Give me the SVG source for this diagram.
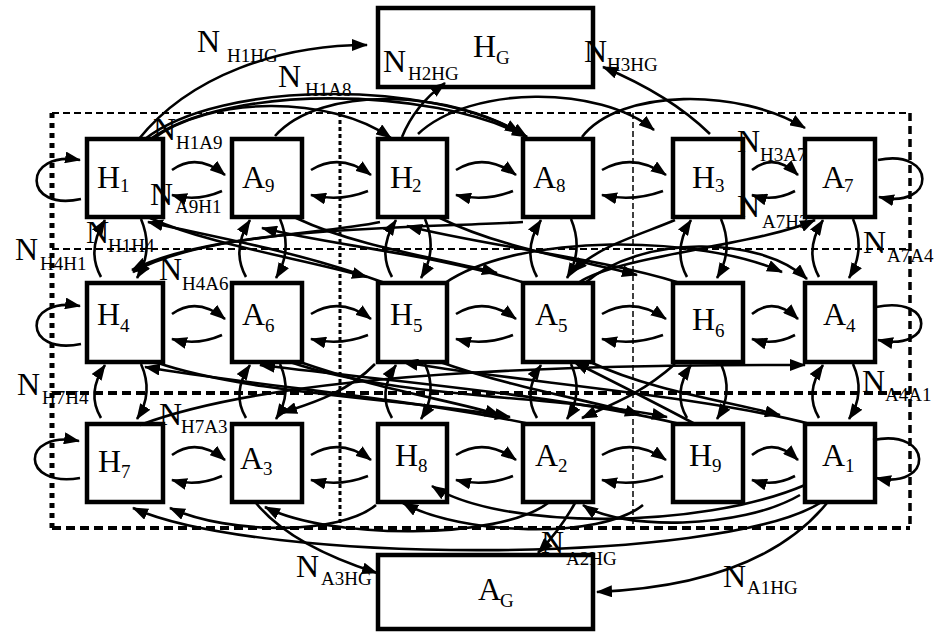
<svg xmlns="http://www.w3.org/2000/svg" width="934" height="632" viewBox="0 0 934 632">
  <style>
    .box { fill: #fff; stroke: #000; stroke-width: 4.5; }
    .big { font-family: "Liberation Serif", "Times New Roman", serif; font-size: 32px; fill: #000; }
    .sub { font-size: 19px; }
    .e { fill: none; stroke: #000; stroke-width: 2.6; marker-end: url(#arr); }
    .g { fill: none; stroke: #000; }
  </style>
  <defs>
    <marker id="arr" viewBox="0 0 16 12" refX="15" refY="6" markerWidth="16" markerHeight="12" markerUnits="userSpaceOnUse" orient="auto">
      <path d="M0,0 L16,6 L0,12 z" fill="#000"/>
    </marker>
  </defs>
  <rect width="934" height="632" fill="#fff"/>

  <!-- dashed zone grid -->
  <g id="grid">
    <line class="g" x1="52" y1="113" x2="910" y2="113" stroke-width="2" stroke-dasharray="7 4"/>
    <line class="g" x1="52" y1="249" x2="910" y2="249" stroke-width="2" stroke-dasharray="7 4"/>
    <line class="g" x1="52" y1="393" x2="910" y2="393" stroke-width="4" stroke-dasharray="9 5"/>
    <line class="g" x1="52" y1="528" x2="910" y2="528" stroke-width="4" stroke-dasharray="9 5"/>
    <line class="g" x1="52" y1="113" x2="52" y2="528" stroke-width="5" stroke-dasharray="5 5"/>
    <line class="g" x1="910" y1="113" x2="910" y2="528" stroke-width="3.5" stroke-dasharray="8 5"/>
    <line class="g" x1="340" y1="113" x2="340" y2="528" stroke-width="3" stroke-dasharray="4 3"/>
    <line class="g" x1="633" y1="113" x2="633" y2="528" stroke-width="1.5" stroke-dasharray="6 3"/>
  </g>

  <!-- nodes -->
  <g id="HG"><rect class="box" x="378" y="8" width="215" height="79"/><text class="big" x="473" y="57">H<tspan class="sub" x="496" y="64">G</tspan></text></g>
  <g id="AG"><rect class="box" x="378" y="555" width="215" height="74"/><text class="big" x="478" y="600">A<tspan class="sub" x="500" y="607">G</tspan></text></g>

  <g id="H1"><rect class="box" x="87" y="139" width="76" height="78"/><text class="big" x="97" y="188">H<tspan class="sub" x="120" y="192">1</tspan></text></g>
  <g id="A9"><rect class="box" x="232" y="139" width="70" height="78"/><text class="big" x="242" y="188">A<tspan class="sub" x="265" y="192">9</tspan></text></g>
  <g id="H2"><rect class="box" x="378" y="139" width="69" height="78"/><text class="big" x="390" y="188">H<tspan class="sub" x="412" y="192">2</tspan></text></g>
  <g id="A8"><rect class="box" x="523" y="139" width="70" height="78"/><text class="big" x="533" y="188">A<tspan class="sub" x="556" y="192">8</tspan></text></g>
  <g id="H3"><rect class="box" x="673" y="139" width="70" height="78"/><text class="big" x="692" y="188">H<tspan class="sub" x="715" y="192">3</tspan></text></g>
  <g id="A7"><rect class="box" x="805" y="139" width="70" height="78"/><text class="big" x="822" y="188">A<tspan class="sub" x="844" y="192">7</tspan></text></g>

  <g id="H4"><rect class="box" x="87" y="283" width="76" height="79"/><text class="big" x="97" y="325">H<tspan class="sub" x="120" y="332">4</tspan></text></g>
  <g id="A6"><rect class="box" x="232" y="283" width="70" height="79"/><text class="big" x="242" y="325">A<tspan class="sub" x="265" y="332">6</tspan></text></g>
  <g id="H5"><rect class="box" x="378" y="283" width="69" height="79"/><text class="big" x="390" y="325">H<tspan class="sub" x="413" y="332">5</tspan></text></g>
  <g id="A5"><rect class="box" x="523" y="283" width="70" height="79"/><text class="big" x="535" y="325">A<tspan class="sub" x="558" y="332">5</tspan></text></g>
  <g id="H6"><rect class="box" x="673" y="283" width="70" height="79"/><text class="big" x="692" y="330">H<tspan class="sub" x="715" y="337">6</tspan></text></g>
  <g id="A4"><rect class="box" x="805" y="283" width="70" height="79"/><text class="big" x="823" y="325">A<tspan class="sub" x="846" y="332">4</tspan></text></g>

  <g id="H7"><rect class="box" x="87" y="424" width="76" height="78"/><text class="big" x="98" y="472">H<tspan class="sub" x="121" y="478">7</tspan></text></g>
  <g id="A3"><rect class="box" x="232" y="424" width="70" height="78"/><text class="big" x="240" y="469">A<tspan class="sub" x="263" y="475">3</tspan></text></g>
  <g id="H8"><rect class="box" x="378" y="424" width="69" height="78"/><text class="big" x="395" y="466">H<tspan class="sub" x="418" y="472">8</tspan></text></g>
  <g id="A2"><rect class="box" x="523" y="424" width="70" height="78"/><text class="big" x="535" y="466">A<tspan class="sub" x="558" y="472">2</tspan></text></g>
  <g id="H9"><rect class="box" x="673" y="424" width="70" height="78"/><text class="big" x="689" y="466">H<tspan class="sub" x="712" y="472">9</tspan></text></g>
  <g id="A1"><rect class="box" x="805" y="424" width="70" height="78"/><text class="big" x="822" y="466">A<tspan class="sub" x="845" y="472">1</tspan></text></g>

  <!-- connectors -->
  <g id="connectors">
    <!-- self loops -->
    <path class="e" d="M81,199 C22,212 22,150 80,160"/>
    <path class="e" d="M81,344 C22,356 22,296 80,306"/>
    <path class="e" d="M80,478 C20,488 20,430 79,441"/>
    <path class="e" d="M878,160 C937,148 937,210 879,197"/>
    <path class="e" d="M876,307 C936,295 936,352 878,340"/>
    <path class="e" d="M873,440 C934,428 934,490 876,478"/>

    <!-- row 1 neighbour pairs -->
    <path class="e" d="M172,170 Q197,152 225,175"/><path class="e" d="M222,191 Q197,202 172,195"/>
    <path class="e" d="M311,170 Q340,152 371,175"/><path class="e" d="M368,191 Q340,202 311,195"/>
    <path class="e" d="M456,170 Q485,152 516,175"/><path class="e" d="M513,191 Q485,202 456,195"/>
    <path class="e" d="M602,170 Q633,152 666,175"/><path class="e" d="M663,191 Q633,202 602,195"/>
    <path class="e" d="M752,170 Q774,152 798,175"/><path class="e" d="M795,191 Q774,202 752,195"/>
    <!-- row 2 neighbour pairs -->
    <path class="e" d="M172,314 Q197,296 225,319"/><path class="e" d="M222,335 Q197,346 172,339"/>
    <path class="e" d="M311,314 Q340,296 371,319"/><path class="e" d="M368,335 Q340,346 311,339"/>
    <path class="e" d="M456,314 Q485,296 516,319"/><path class="e" d="M513,335 Q485,346 456,339"/>
    <path class="e" d="M602,314 Q633,296 666,319"/><path class="e" d="M663,335 Q633,346 602,339"/>
    <path class="e" d="M752,314 Q774,296 798,319"/><path class="e" d="M795,335 Q774,346 752,339"/>
    <!-- row 3 neighbour pairs -->
    <path class="e" d="M172,455 Q197,437 225,460"/><path class="e" d="M222,476 Q197,487 172,480"/>
    <path class="e" d="M311,455 Q340,437 371,460"/><path class="e" d="M368,476 Q340,487 311,480"/>
    <path class="e" d="M456,455 Q485,437 516,460"/><path class="e" d="M513,476 Q485,487 456,480"/>
    <path class="e" d="M602,455 Q633,437 666,460"/><path class="e" d="M663,476 Q633,487 602,480"/>
    <path class="e" d="M752,455 Q774,437 798,460"/><path class="e" d="M795,476 Q774,487 752,480"/>

    <!-- vertical pairs, rows 1-2 -->
    <path class="e" d="M101,277 Q86,250 105,220"/><path class="e" d="M141,219 Q154,250 137,278"/>
    <path class="e" d="M246,277 Q231,250 250,220"/><path class="e" d="M280,219 Q293,250 276,278"/>
    <path class="e" d="M392,277 Q377,250 396,220"/><path class="e" d="M425,219 Q438,250 421,278"/>
    <path class="e" d="M537,277 Q522,250 541,220"/><path class="e" d="M571,219 Q584,250 567,278"/>
    <path class="e" d="M687,277 Q672,250 691,220"/><path class="e" d="M721,219 Q734,250 717,278"/>
    <path class="e" d="M819,277 Q804,250 823,220"/><path class="e" d="M853,219 Q866,250 849,278"/>
    <!-- vertical pairs, rows 2-3 -->
    <path class="e" d="M101,418 Q86,393 105,365"/><path class="e" d="M141,364 Q154,393 137,419"/>
    <path class="e" d="M246,418 Q231,393 250,365"/><path class="e" d="M280,364 Q293,393 276,419"/>
    <path class="e" d="M392,418 Q377,393 396,365"/><path class="e" d="M425,364 Q438,393 421,419"/>
    <path class="e" d="M537,418 Q522,393 541,365"/><path class="e" d="M571,364 Q584,393 567,419"/>
    <path class="e" d="M687,418 Q672,393 691,365"/><path class="e" d="M721,364 Q734,393 717,419"/>
    <path class="e" d="M819,418 Q804,393 823,365"/><path class="e" d="M853,364 Q866,393 849,419"/>

    <!-- arcs above row 1 -->
    <path class="e" d="M138,140 C190,75 280,45 367,45"/>
    <path class="e" d="M145,139 C220,80 430,80 520,133"/>
    <path class="e" d="M149,140 C225,84 430,86 527,137"/>
    <path class="e" d="M151,140 C210,95 330,95 391,138"/>
    <path class="e" d="M275,136 C320,85 450,88 527,137"/>
    <path class="e" d="M418,134 C470,85 600,85 654,130"/>
    <path class="e" d="M582,137 C620,88 740,88 805,128"/>
    <path class="e" d="M402,137 Q415,105 445,83"/>
    <path class="e" d="M710,134 Q670,95 603,67"/>

    <!-- cross arcs, rows 1-2 -->
    <path class="e" d="M150,218 C210,245 300,258 367,277"/>
    <path class="e" d="M385,283 C300,252 220,238 148,222"/>
    <path class="e" d="M296,218 C360,248 440,258 497,273"/>
    <path class="e" d="M525,283 C440,255 330,245 262,228"/>
    <path class="e" d="M440,218 C500,248 580,260 637,275"/>
    <path class="e" d="M680,283 C600,258 480,245 407,226"/>
    <path class="e" d="M380,222 C320,235 200,235 133,272"/>
    <path class="e" d="M523,222 C430,228 220,225 132,270"/>
    <path class="e" d="M675,220 C640,235 600,245 572,272"/>
    <path class="e" d="M578,283 C620,255 760,245 815,220"/>
    <path class="e" d="M585,283 C640,235 760,235 807,279"/>
    <path class="e" d="M445,283 C520,232 700,235 782,272"/>

    <!-- cross arcs, rows 2-3 -->
    <path class="e" d="M155,362 C250,395 420,400 510,417"/>
    <path class="e" d="M530,424 C420,400 250,385 145,367"/>
    <path class="e" d="M290,362 C400,400 560,395 667,417"/>
    <path class="e" d="M680,424 C560,395 380,380 260,365"/>
    <path class="e" d="M440,362 C520,390 590,400 640,415"/>
    <path class="e" d="M810,424 C700,395 500,380 403,362"/>
    <path class="e" d="M590,362 C650,390 720,400 780,415"/>
    <path class="e" d="M695,424 C650,400 610,380 574,362"/>
    <path class="e" d="M375,364 C345,395 305,405 282,413"/>
    <path class="e" d="M675,364 C640,395 610,405 582,418"/>
    <path class="e" d="M300,362 C380,390 450,400 500,415"/>
    <path class="e" d="M140,425 C300,365 650,365 805,365"/>

    <!-- arcs below row 3 -->
    <path class="e" d="M820,503 C720,565 260,565 133,508"/>
    <path class="e" d="M548,503 C500,540 330,540 265,507"/>
    <path class="e" d="M376,505 C340,535 230,535 170,508"/>
    <path class="e" d="M643,505 C600,540 460,535 403,503"/>
    <path class="e" d="M800,495 C740,530 620,530 583,505"/>
    <path class="e" d="M805,485 C700,530 500,530 432,486"/>
    <path class="e" d="M575,503 Q560,530 538,553"/>
    <path class="e" d="M256,503 Q290,545 377,573"/>
    <path class="e" d="M827,503 Q760,585 597,592"/>
  </g>

  <!-- transition labels -->
  <g id="labels" class="big">
    <text x="197" y="52">N<tspan class="sub" x="227" y="62">H1HG</tspan></text>
    <text x="278" y="87">N<tspan class="sub" x="305" y="96">H1A8</tspan></text>
    <text x="383" y="72">N<tspan class="sub" x="408" y="80">H2HG</tspan></text>
    <text x="584" y="62">N<tspan class="sub" x="607" y="71">H3HG</tspan></text>
    <text x="153" y="140">N<tspan class="sub" x="176" y="149">H1A9</tspan></text>
    <text x="150" y="205">N<tspan class="sub" x="175" y="213">A9H1</tspan></text>
    <text x="15" y="260">N<tspan class="sub" x="40" y="270">H4H1</tspan></text>
    <text x="86" y="243">N<tspan class="sub" x="108" y="252">H1H4</tspan></text>
    <text x="159" y="280">N<tspan class="sub" x="182" y="290">H4A6</tspan></text>
    <text x="17" y="395">N<tspan class="sub" x="42" y="404">H7H4</tspan></text>
    <text x="159" y="425">N<tspan class="sub" x="181" y="433">H7A3</tspan></text>
    <text x="737" y="152">N<tspan class="sub" x="760" y="161">H3A7</tspan></text>
    <text x="737" y="217">N<tspan class="sub" x="762" y="228">A7H3</tspan></text>
    <text x="863" y="253">N<tspan class="sub" x="887" y="262">A7A4</tspan></text>
    <text x="862" y="392">N<tspan class="sub" x="885" y="401">A4A1</tspan></text>
    <text x="296" y="577">N<tspan class="sub" x="321" y="585">A3HG</tspan></text>
    <text x="541" y="553">N<tspan class="sub" x="566" y="565">A2HG</tspan></text>
    <text x="723" y="587">N<tspan class="sub" x="747" y="594">A1HG</tspan></text>
  </g>
</svg>
